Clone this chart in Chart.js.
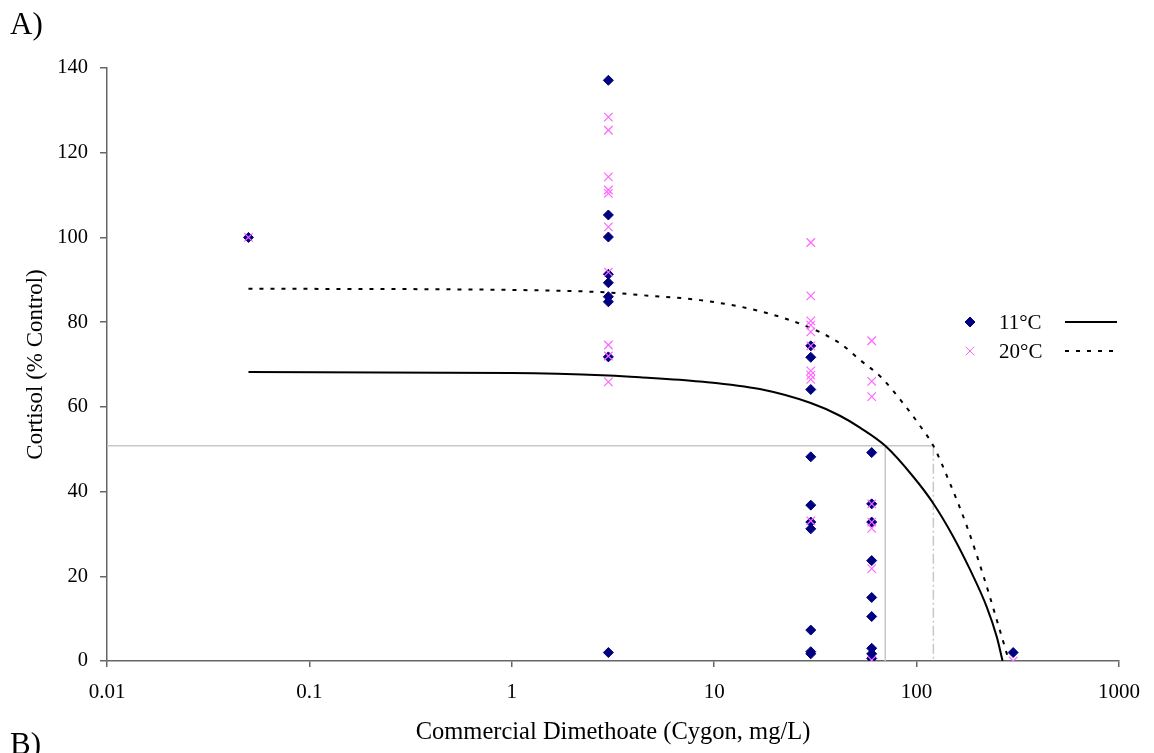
<!DOCTYPE html>
<html>
<head>
<meta charset="utf-8">
<script src="https://cdn.jsdelivr.net/npm/chart.js@4"></script>
<style>
  body { margin: 0; background: #fff; }
  #wrap { width: 1154px; height: 753px; position: relative; }
</style>
</head>
<body>
<div id="wrap"><canvas id="cortisolChart"></canvas></div>
<script>
// tick labels
const xTicks = [0.01, 0.1, 1, 10, 100, 1000];

// 11°C measured points (dose, cortisol % control)
const dose11 = [0.05,
    3, 3, 3, 3, 3, 3, 3, 3, 3,
    30, 30, 30, 30, 30, 30, 30, 30, 30, 30,
    60, 60, 60, 60, 60, 60, 60, 60, 60,
    300];
const cort11 = [100,
    137.1, 105.3, 100.1, 91.3, 89.3, 86.0, 84.8, 71.8, 2.0,
    74.4, 71.7, 64.1, 48.2, 36.8, 32.8, 31.2, 7.3, 2.2, 1.7,
    49.2, 37.1, 32.8, 23.7, 15.0, 10.5, 3.0, 1.7, 0.6,
    2.0];

// 20°C measured points
const dose20 = [0.05,
    3, 3, 3, 3, 3, 3, 3, 3, 3, 3,
    30, 30, 30, 30, 30, 30, 30, 30, 30, 30,
    60, 60, 60, 60, 60, 60, 60, 60,
    300];
const cort20 = [100,
    128.4, 125.3, 114.3, 111.2, 110.4, 102.5, 91.8, 74.6, 72.0, 65.9,
    98.8, 86.2, 80.3, 79.3, 77.7, 74.4, 68.5, 67.5, 66.5, 33.1,
    75.6, 66.0, 62.4, 37.1, 32.8, 31.3, 21.8, 0.2,
    0];

// fitted curves
const fitDose11 = [0.05, 1, 3, 4.3, 8.5, 16.8, 30, 41.8, 52.5, 70, 96.3, 121, 152, 184, 222, 249, 266];
const fitCort11 = [68.2, 68.0, 67.4, 67.0, 66.0, 64.2, 60.9, 57.9, 55.1, 50.8, 43.5, 37.2, 29.3, 21.5, 12.8, 5.7, 0];
const fitDose20 = [0.05, 1, 3, 4.3, 8.5, 16.8, 30, 41.8, 52.5, 66.4, 83.4, 104.8, 121, 146, 177.5, 214.5, 249, 286];
const fitCort20 = [87.9, 87.6, 87.0, 86.4, 85.2, 82.6, 78.6, 75.0, 71.1, 67.1, 61.6, 55.3, 50.8, 42.0, 31.7, 19.9, 9.7, 0];

// EC50 guide lines
const ec50Level = 50.8;
const ec50Dose11 = 70;
const ec50Dose20 = 121;

const serif = "'Liberation Serif', 'Times New Roman', serif";

function pts(xs, ys) {
    return xs.map((x, i) => ({x: x, y: ys[i]}));
}

// legend + panel letters, drawn by hand because each row has marker and line
const extrasPlugin = {
    id: 'extras',
    afterDraw(chart) {
        const c = chart.ctx;
        c.save();
        c.fillStyle = '#000';
        c.textBaseline = 'middle';
        c.font = '31px ' + serif;
        c.fillText('A)', 10, 26);
        c.fillText('B)', 10, 746);

        const rows = [
            {y: 322, label: '11°C', marker: 'rectRot', color: '#000080', dash: [], r: 5},
            {y: 351, label: '20°C', marker: 'crossRot', color: '#ff66ff', dash: [4, 7], r: 6}
        ];
        rows.forEach(row => {
            c.lineWidth = 1;
            c.strokeStyle = row.color;
            c.fillStyle = row.color;
            Chart.helpers.drawPoint(c, {pointStyle: row.marker, radius: row.r, borderWidth: 1}, 970, row.y);
            c.fillStyle = '#000';
            c.font = '21px ' + serif;
            c.fillText(row.label, 999, row.y + 1);
            c.beginPath();
            c.setLineDash(row.dash);
            c.lineWidth = 2;
            c.strokeStyle = '#000';
            c.moveTo(1065, row.y);
            c.lineTo(1117, row.y);
            c.stroke();
            c.setLineDash([]);
        });
        c.restore();
    }
};

const axisColor = '#666';

new Chart(document.getElementById('cortisolChart'), {
    type: 'scatter',
    data: {
        datasets: [
            {
                label: '20°C',
                data: pts(dose20, cort20),
                pointStyle: 'crossRot',
                pointRadius: 6,
                pointBorderWidth: 1.2,
                borderColor: '#ff66ff',
                backgroundColor: '#ff66ff',
                order: 1
            },
            {
                label: '11°C',
                data: pts(dose11, cort11),
                pointStyle: 'rectRot',
                pointRadius: 5,
                pointBorderWidth: 1,
                borderColor: '#000080',
                backgroundColor: '#000080',
                order: 2
            },
            {
                label: '11°C fit',
                data: pts(fitDose11, fitCort11),
                showLine: true,
                pointRadius: 0,
                borderColor: '#000',
                borderWidth: 2,
                cubicInterpolationMode: 'monotone',
                order: 3
            },
            {
                label: '20°C fit',
                data: pts(fitDose20, fitCort20),
                showLine: true,
                pointRadius: 0,
                borderColor: '#000',
                borderWidth: 2,
                borderDash: [4, 7],
                cubicInterpolationMode: 'monotone',
                order: 4
            },
            {
                label: 'EC50 level',
                data: [{x: 0.01, y: ec50Level}, {x: ec50Dose20, y: ec50Level}],
                showLine: true,
                pointRadius: 0,
                borderColor: '#c8c8c8',
                borderWidth: 1.5,
                order: 5
            },
            {
                label: 'EC50 11',
                data: [{x: ec50Dose11, y: ec50Level}, {x: ec50Dose11, y: 0}],
                showLine: true,
                pointRadius: 0,
                borderColor: '#c8c8c8',
                borderWidth: 1.5,
                order: 6
            },
            {
                label: 'EC50 20',
                data: [{x: ec50Dose20, y: ec50Level}, {x: ec50Dose20, y: 0}],
                showLine: true,
                pointRadius: 0,
                borderColor: '#c8c8c8',
                borderWidth: 1.5,
                borderDash: [10, 3, 2, 3],
                order: 7
            }
        ]
    },
    options: {
        responsive: true,
        maintainAspectRatio: false,
        animation: false,
        layout: {
            padding: {top: 68, right: 35, left: 0, bottom: 0}
        },
        scales: {
            x: {
                type: 'logarithmic',
                min: 0.01,
                max: 1000,
                afterBuildTicks: function(scale) {
                    scale.ticks = xTicks.map(v => ({value: v}));
                },
                afterFit: function(scale) {
                    scale.height = 92;
                },
                grid: {
                    drawOnChartArea: false,
                    drawTicks: true,
                    tickLength: 6,
                    color: axisColor,
                    lineWidth: 1.5
                },
                border: {color: axisColor, width: 1.5},
                ticks: {
                    autoSkip: false,
                    maxRotation: 0,
                    color: '#000',
                    padding: 13,
                    font: {family: serif, size: 21},
                    callback: function(value) {
                        return String(value);
                    }
                },
                title: {
                    display: true,
                    text: 'Commercial Dimethoate (Cygon, mg/L)',
                    color: '#000',
                    font: {family: serif, size: 24.5},
                    padding: {top: 0, bottom: 6}
                }
            },
            y: {
                min: 0,
                max: 140,
                afterFit: function(scale) {
                    scale.width = 107;
                },
                grid: {
                    drawOnChartArea: false,
                    drawTicks: true,
                    tickLength: 7,
                    color: axisColor,
                    lineWidth: 1.5
                },
                border: {color: axisColor, width: 1.5},
                ticks: {
                    stepSize: 20,
                    color: '#000',
                    padding: 12,
                    font: {family: serif, size: 20.5}
                },
                title: {
                    display: true,
                    text: 'Cortisol (% Control)',
                    color: '#000',
                    font: {family: serif, size: 23},
                    padding: {top: 22, bottom: 0}
                }
            }
        },
        plugins: {
            legend: {display: false},
            tooltip: {enabled: false}
        }
    },
    plugins: [extrasPlugin]
});
</script>
</body>
</html>
